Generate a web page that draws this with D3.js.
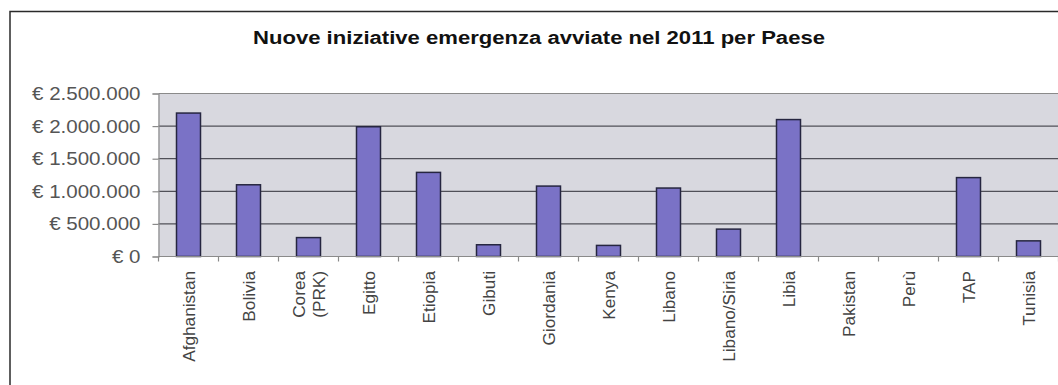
<!DOCTYPE html>
<html>
<head>
<meta charset="utf-8">
<script src="https://cdn.jsdelivr.net/npm/d3@7"></script>
<style>
  html, body { margin: 0; padding: 0; background: #fff; }
  svg { display: block; font-family: "Liberation Sans", Arial, sans-serif; }
</style>
</head>
<body>
<svg id="chart" width="1058" height="385"></svg>
<script>
const title = "Nuove iniziative emergenza avviate nel 2011 per Paese";
const categories = ["Afghanistan", "Bolivia", "Corea\n(PRK)", "Egitto", "Etiopia", "Gibuti", "Giordania", "Kenya", "Libano", "Libano/Siria", "Libia", "Pakistan", "Perù", "TAP", "Tunisia"];
const values = [2200000, 1100000, 290000, 1990000, 1290000, 180000, 1080000, 170000, 1050000, 420000, 2100000, 0, 0, 1210000, 240000];
const yTicks = [0, 500000, 1000000, 1500000, 2000000, 2500000];

const svg = d3.select("#chart");
const plot = { left: 158.5, right: 1058.5, top: 93.5, bottom: 256.5 };

const locale = d3.formatLocale({ decimal: ",", thousands: ".", grouping: [3], currency: ["€ ", ""] });
const fmt = locale.format("$,.0f");

const x = d3.scaleBand().domain(categories).range([plot.left, plot.right]).paddingInner(0.6).paddingOuter(0.3);
const xSlot = d3.scaleBand().domain(categories).range([plot.left, plot.right]);
const y = d3.scaleLinear().domain([0, 2500000]).range([plot.bottom, plot.top]);

// outer frame
svg.append("path").attr("d", "M10,385 L10,11.5 L1058,11.5")
  .attr("fill", "none").attr("stroke", "#2a2a2a").attr("stroke-width", 1.5);

// title
const t = svg.append("text").attr("x", 539).attr("y", 43.5).attr("text-anchor", "middle")
  .attr("font-size", 18).attr("font-weight", "bold").attr("fill", "#111").text(title);
t.attr("textLength", 572).attr("lengthAdjust", "spacingAndGlyphs");

// plot background
svg.append("rect").attr("x", plot.left).attr("y", plot.top)
  .attr("width", plot.right - plot.left).attr("height", plot.bottom - plot.top)
  .attr("fill", "#d8d8df");

// gridlines
svg.append("g").selectAll("line").data(yTicks.filter(d => d > 0)).join("line")
  .attr("x1", plot.left).attr("x2", plot.right)
  .attr("y1", d => y(d)).attr("y2", d => y(d))
  .attr("stroke", d => d === 2500000 ? "#8a8a8a" : "#505058").attr("stroke-width", 1.2);

// bars
svg.append("g").selectAll("rect").data(categories).join("rect")
  .attr("x", d => x(d)).attr("width", x.bandwidth())
  .attr("y", (d, i) => y(values[i])).attr("height", (d, i) => y(0) - y(values[i]))
  .attr("fill", "#7a72c6").attr("stroke", "#262640").attr("stroke-width", 1.5)
  .attr("display", (d, i) => values[i] > 0 ? null : "none");

// y axis
const yAxis = svg.append("g").attr("transform", `translate(${plot.left},0)`)
  .call(d3.axisLeft(y).tickValues(yTicks).tickFormat(fmt).tickSize(6).tickPadding(12));
yAxis.select(".domain").attr("stroke", "#8a8a8a").attr("stroke-width", 1.2);
yAxis.selectAll(".tick line").attr("stroke", "#8a8a8a").attr("stroke-width", 1.2);
yAxis.selectAll(".tick text").attr("font-size", 18.5).attr("fill", "#555")
  .attr("font-family", "Liberation Sans, Arial, sans-serif")
  .each(function () {
    const w = this.getComputedTextLength();
    d3.select(this).attr("textLength", w * 1.11).attr("lengthAdjust", "spacingAndGlyphs");
  });

// x axis line + ticks at category boundaries
svg.append("line").attr("x1", plot.left).attr("x2", plot.right)
  .attr("y1", plot.bottom).attr("y2", plot.bottom)
  .attr("stroke", "#8a8a8a").attr("stroke-width", 1.2);
const bounds = categories.map(c => xSlot(c)).concat([plot.right]);
svg.append("g").selectAll("line").data(bounds).join("line")
  .attr("x1", d => d).attr("x2", d => d)
  .attr("y1", plot.bottom).attr("y2", plot.bottom + 5)
  .attr("stroke", "#8a8a8a").attr("stroke-width", 1.2);

// x labels rotated
const lab = svg.append("g").selectAll("text").data(categories).join("text")
  .attr("transform", d => `translate(${xSlot(d) + xSlot.bandwidth() / 2},271) rotate(-90)`)
  .attr("text-anchor", "end").attr("font-size", 17.2).attr("fill", "#444");
lab.each(function (d) {
  const lines = d.split("\n");
  const n = lines.length;
  const lh = 20;
  d3.select(this).selectAll("tspan").data(lines).join("tspan")
    .attr("x", 0)
    .attr("y", (l, i) => (i - (n - 1) / 2) * lh)
    .attr("dy", "0.35em")
    .text(l => l);
});
</script>
</body>
</html>
